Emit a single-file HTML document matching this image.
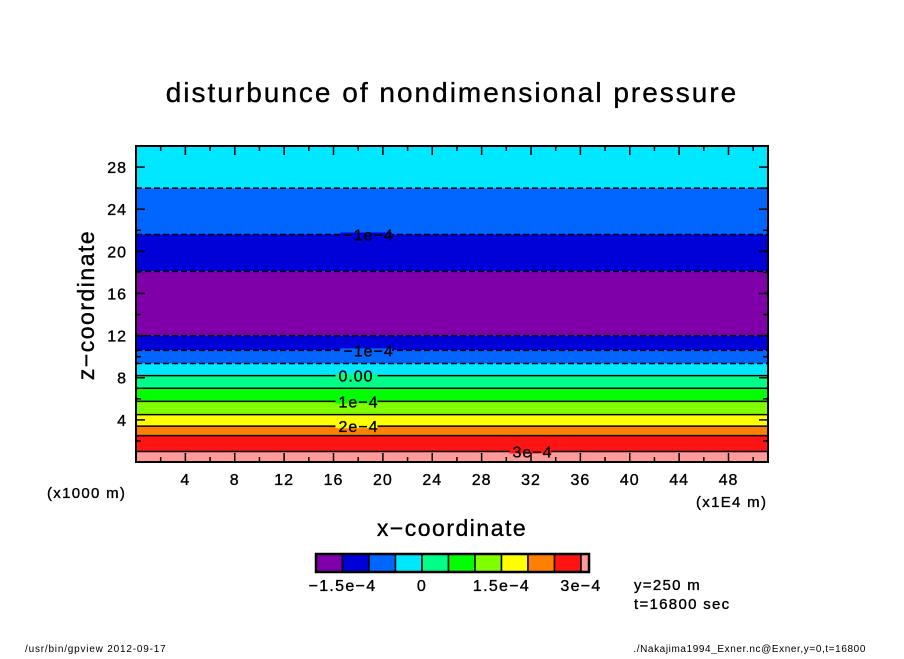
<!DOCTYPE html>
<html><head><meta charset="utf-8"><style>
body{margin:0;background:#fff;}
svg text{font-family:"Liberation Sans",sans-serif;fill:#000;stroke:#000;stroke-width:0.35;}
</style></head><body>
<svg id="chart" width="904" height="654" viewBox="0 0 904 654">
<text x="452" y="102" font-size="28" letter-spacing="2" text-anchor="middle">disturbunce of nondimensional pressure</text>
<g id="bands"></g>
<g id="lines"></g>
<g id="axes"></g>
<text x="94" y="305" font-size="23" letter-spacing="1.5" text-anchor="middle" transform="rotate(-90 94 305)">z−coordinate</text>
<text x="452" y="536" font-size="23" letter-spacing="1.5" text-anchor="middle">x−coordinate</text>
<text x="47" y="498" font-size="15" letter-spacing="1.3">(x1000 m)</text>
<text x="696" y="507" font-size="15" letter-spacing="1.3">(x1E4 m)</text>
<g id="cbar"></g>
<text x="634" y="590" font-size="15" letter-spacing="1.3">y=250 m</text>
<text x="634" y="609" font-size="15" letter-spacing="1.3">t=16800 sec</text>
<text x="25" y="652" font-size="10" letter-spacing="0.8" style="stroke-width:0">/usr/bin/gpview  2012-09-17</text>
<text x="866" y="652" font-size="10" letter-spacing="0.6" style="stroke-width:0" text-anchor="end">./Nakajima1994_Exner.nc@Exner,y=0,t=16800</text>
</svg>
<script>
const bandTops = [30, 26.0, 21.6, 18.1, 12.0, 10.6, 9.35, 8.2, 7.0, 5.75, 4.5, 3.4, 2.5, 1.0];
const bandColors = ["#00e8ff","#0066ff","#0000d8","#7f00a8","#0000d8","#0066ff","#00e8ff","#00ff88","#00ff00","#80ff00","#ffff00","#ff7f00","#ff1414","#ff9a9a"];
const lineZ = [26.0, 21.6, 18.1, 12.0, 10.6, 9.35, 8.2, 7.0, 5.75, 4.5, 3.4, 2.5, 1.0];
const lineNeg = [true,true,true,true,true,true,false,false,false,false,false,false,false];
const xTicks = [4,8,12,16,20,24,28,32,36,40,44,48];
const yTicks = [4,8,12,16,20,24,28];
const contourLabels = ["−1e−4","−1e−4","0.00","1e−4","2e−4","3e−4"];
const contourLabelX = [16.8,16.8,16.4,16.4,16.4,30.5];
const contourLabelZ = [21.6,10.6,8.2,5.75,3.4,1.0];
const cbarColors = ["#7f00a8","#0000d8","#0066ff","#00e8ff","#00ff88","#00ff00","#80ff00","#ffff00","#ff7f00","#ff1414"];
const cbarLabels = ["−1.5e−4","0","1.5e−4","3e−4"];
const cbarLabelIdx = [1,4,7,10];

const L=136,R=768,T=146,B=462,xMax=51.2,zMax=30;
const sx=v=>L+v/xMax*(R-L), sy=v=>B-v/zMax*(B-T);
const NS="http://www.w3.org/2000/svg";
function mk(tag,attrs,parent){const e=document.createElementNS(NS,tag);for(const k in attrs)e.setAttribute(k,attrs[k]);parent.appendChild(e);return e;}
const bands=document.getElementById('bands');
for(let i=0;i<bandTops.length;i++){
  const top=bandTops[i], bot=i+1<bandTops.length?bandTops[i+1]:0;
  const r=mk('rect',{x:L,y:sy(top),width:R-L,height:sy(bot)-sy(top),fill:bandColors[i]},bands);
  
  
}
const lines=document.getElementById('lines');
for(let i=0;i<lineZ.length;i++){
  const a={x1:L,x2:R,y1:sy(lineZ[i]),y2:sy(lineZ[i]),stroke:'#000','stroke-width':1.5};
  if(lineNeg[i])a['stroke-dasharray']='6 3';
  const l=mk('line',a,lines);
  
  
}
const lblBg=[2,5,7,8,10,12];
for(let i=0;i<contourLabels.length;i++){
  const x=sx(contourLabelX[i]),y=sy(contourLabelZ[i]);
  const bg=mk('rect',{x:x-3,y:y-2,width:contourLabels[i].length*9.5+4,height:4,fill:bandColors[lblBg[i]]},lines);
  
  
  const t=mk('text',{x:x,y:y+6,'font-size':16,'letter-spacing':1},lines);t.textContent=contourLabels[i];
  
  
}
const axes=document.getElementById('axes');
const fr=mk('rect',{x:L,y:T,width:R-L,height:B-T,fill:'none',stroke:'#000','stroke-width':2},axes);


for(let v=2;v<xMax;v+=2){const big=v%4===0;const h=big?9:5;
  mk('line',{x1:sx(v),x2:sx(v),y1:B,y2:B-h,stroke:'#000','stroke-width':1.5},axes);
  mk('line',{x1:sx(v),x2:sx(v),y1:T,y2:T+h,stroke:'#000','stroke-width':1.5},axes);}
for(let v=2;v<zMax;v+=2){const big=v%4===0;const h=big?9:5;
  mk('line',{x1:L,x2:L+h,y1:sy(v),y2:sy(v),stroke:'#000','stroke-width':1.5},axes);
  mk('line',{x1:R,x2:R-h,y1:sy(v),y2:sy(v),stroke:'#000','stroke-width':1.5},axes);}
xTicks.forEach(v=>{const t=mk('text',{x:sx(v),y:485,'font-size':16,'letter-spacing':1,'text-anchor':'middle'},axes);t.textContent=v;
  
  });
yTicks.forEach(v=>{const t=mk('text',{x:127,y:sy(v)+6,'font-size':16,'letter-spacing':1,'text-anchor':'end'},axes);t.textContent=v;
  
  });
const cb=document.getElementById('cbar');
const cx0=316,cw=26.5,cy=554,ch=18;
cbarColors.forEach((c,i)=>{const r=mk('rect',{x:cx0+i*cw,y:cy,width:cw,height:ch,fill:c,stroke:'#000','stroke-width':1.5},cb);
  
  });
const last=mk('rect',{x:cx0+10*cw,y:cy,width:8,height:ch,fill:'#ff9a9a',stroke:'#000','stroke-width':1.5},cb);


mk('rect',{x:cx0,y:cy,width:10*cw+8,height:ch,fill:'none',stroke:'#000','stroke-width':2.5},cb);
cbarLabels.forEach((s,i)=>{const t=mk('text',{x:cx0+cbarLabelIdx[i]*cw,y:591,'font-size':16,'letter-spacing':1.3,'text-anchor':'middle'},cb);t.textContent=s;
  
  });
</script>
</body></html>
